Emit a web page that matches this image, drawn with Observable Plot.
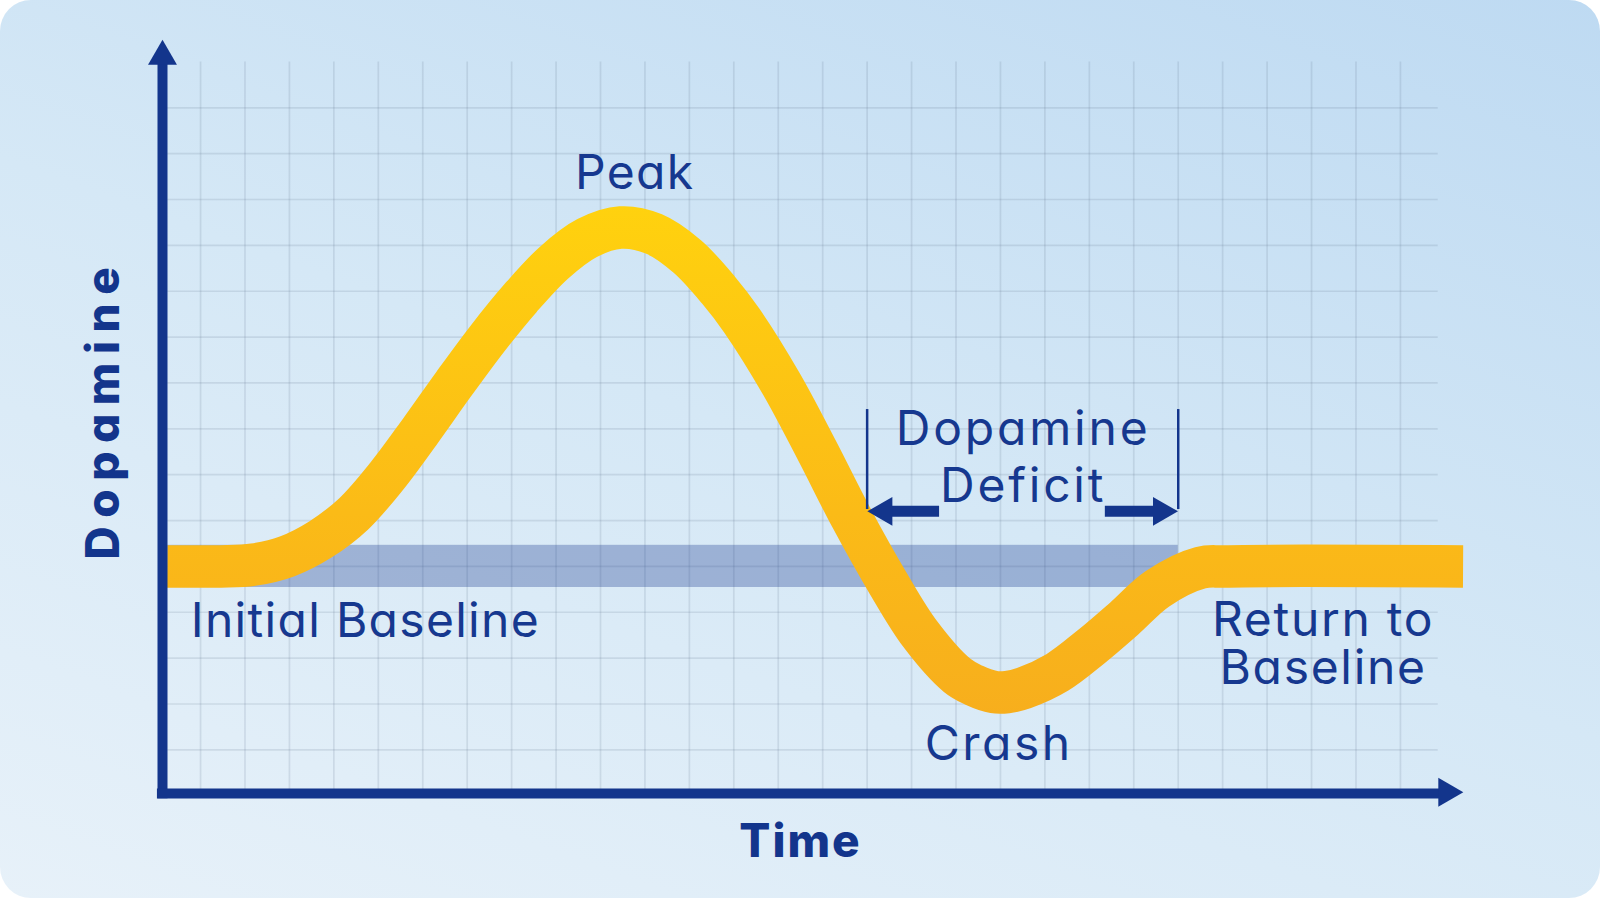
<!DOCTYPE html>
<html>
<head>
<meta charset="utf-8">
<script src="https://cdn.jsdelivr.net/npm/d3@7"></script>
<script src="https://cdn.jsdelivr.net/npm/@observablehq/plot@0.6"></script>
<style>
  html, body { margin: 0; padding: 0; background: #ffffff; }
  #card {
    width: 1600px; height: 898px; border-radius: 31px; overflow: hidden;
    background: linear-gradient(200deg, #BEDAF2 0%, #D5E8F6 50%, #E7F1F9 100%);
  }
  #card svg { display: block; background: transparent; }
  #card svg text { font-feature-settings: "cv11" 1; }
</style>
</head>
<body>
<div id="card"></div>
<script>
// Dopamine response over time (time in grid columns, level in grid rows)
const time = [0.25, 1.45, 2.2, 2.95, 3.7, 4.45, 5.2, 5.95, 6.7, 7.45, 8.2, 8.95, 9.7, 10.45,
  11.2, 11.95, 12.66, 13.18, 14.07, 14.87, 15.64, 16.48, 17.19, 18.03, 18.4, 18.85, 19.15, 19.53, 20.28,
  21.03, 21.78, 22.53, 23.5, 24.06, 29.41];
const dopamine = [5, 5, 5.04, 5.22, 5.59, 6.15, 6.98, 7.96, 8.98, 9.96, 10.85, 11.62, 12.16, 12.39,
  12.25, 11.76, 11.02, 10.36, 8.98, 7.53, 6.07, 4.62, 3.53, 2.62, 2.41, 2.26, 2.26, 2.35, 2.69,
  3.24, 3.86, 4.51, 4.97, 5, 5];

const baselineLevel = 5;
const bandHalf = 0.46;
const deficitStart = 16;
const deficitEnd = 23;

const gridCols = d3.range(1, 29);
const gridRows = d3.range(1, 16);
const gridTop = 16;
const gridRight = 28.85;

// Annotation labels
const labelText = ["Peak", "Dopamine\nDeficit", "Crash", "Return to\nBaseline"];
const labelTime = [10.77, 19.51, 18.96, 26.26];
const labelLevel = [13.23, 6.40, 0.768, 2.425];
const labelLineHeight = [1, 1.2, 1, 1.0];
const startLabel = "Initial Baseline";
const startLabelTime = 0.78;
const startLabelLevel = 3.47;

const xTitle = "Time";
const yTitle = "Dopamine";

const navy = "#13358C";
const labelColor = "#16388F";

const series = time.map((t, i) => ({t, d: dopamine[i]}));

const axisTime = 0.144;
const axisLevel = 0.05;

// tracking per text block (px)
const tracking = new Map([
  ["Peak", 1.3], ["Initial Baseline", 1.3], ["DopamineDeficit", 2.8],
  ["Crash", 2.5], ["Return toBaseline", 1.7], ["Time", 2], ["Dopamine", 8.5]
]);

const gradientDefs = () => {
  const defs = d3.create("svg:defs");
  const g = defs.append("linearGradient")
    .attr("id", "curveGrad")
    .attr("gradientUnits", "userSpaceOnUse")
    .attr("x1", 0).attr("y1", 200).attr("x2", 0).attr("y2", 720);
  g.append("stop").attr("offset", "0%").attr("stop-color", "#FFD20E");
  g.append("stop").attr("offset", "60%").attr("stop-color", "#FBBB17");
  g.append("stop").attr("offset", "100%").attr("stop-color", "#F7AE1D");
  return defs.node();
};

const labelMarks = labelText.map((s, i) => Plot.text([s], {
  x: labelTime[i], y: labelLevel[i], text: d => d,
  lineAnchor: "bottom", textAnchor: "middle", lineHeight: labelLineHeight[i],
  fontFamily: "Inter", fontSize: 48, fill: labelColor
}));

const chart = Plot.plot({
  width: 1600,
  height: 898,
  margin: 0,
  style: {background: "transparent", overflow: "visible"},
  x: {domain: [0, 30], range: [155.6, 155.6 + 30 * 44.44], axis: null},
  y: {domain: [0, 17], range: [795.2, 795.2 - 17 * 45.86], axis: null},
  marks: [
    gradientDefs,
    // grid
    Plot.ruleX(gridCols, {y1: 0, y2: gridTop, stroke: "#5d7387", strokeOpacity: 0.16, strokeWidth: 1.7}),
    Plot.ruleY(gridRows, {x1: 0.26, x2: gridRight, stroke: "#5d7387", strokeOpacity: 0.16, strokeWidth: 1.7}),
    // baseline band
    Plot.rect([baselineLevel], {
      x1: 0.26, x2: deficitEnd,
      y1: d => d - bandHalf, y2: d => d + bandHalf,
      fill: navy, fillOpacity: 0.31
    }),
    // dopamine curve
    Plot.line(series, {
      x: "t", y: "d", curve: "catmull-rom",
      stroke: "url(#curveGrad)", strokeWidth: 42.5,
      strokeLinecap: "butt", strokeLinejoin: "round"
    }),
    // axes
    Plot.ruleX([axisTime], {y1: -0.065, y2: 15.95, stroke: navy, strokeWidth: 10, strokeLinecap: "butt"}),
    Plot.ruleY([axisLevel], {x1: 0.03, x2: 28.9, stroke: navy, strokeWidth: 10, strokeLinecap: "butt"}),
    Plot.dot([{t: axisTime, d: 16.12, r: 0}, {t: 29.04, d: 0.075, r: 90}], {
      x: "t", y: "d", rotate: "r", symbol: "triangle", r: 10.74, fill: navy, stroke: null
    }),
    // deficit brackets and arrows
    Plot.ruleX([deficitStart, deficitEnd], {y1: 6.24, y2: 8.42, stroke: navy, strokeWidth: 2.5}),
    Plot.ruleY([{a: 16.5, b: 17.63}, {a: 21.36, b: 22.5}], {
      x1: "a", x2: "b", y: 6.2, stroke: navy, strokeWidth: 11, strokeLinecap: "butt"
    }),
    Plot.dot([{t: 16.38, r: -90}, {t: 22.62, r: 90}], {
      x: "t", y: 6.2, rotate: "r", symbol: "triangle", r: 10.74, fill: navy, stroke: null
    }),
    // labels
    ...labelMarks,
    Plot.text([startLabel], {
      x: startLabelTime, y: startLabelLevel, text: d => d, lineAnchor: "bottom", textAnchor: "start",
      fontFamily: "Inter", fontSize: 48, fill: labelColor
    }),
    // axis titles
    Plot.text([xTitle], {
      x: 14.5, y: -1.34, text: d => d, lineAnchor: "bottom", textAnchor: "middle",
      fontFamily: "Inter", fontSize: 46, fontWeight: 800, fill: navy
    }),
    Plot.text([yTitle], {
      x: -0.846, y: 8.43, text: d => d, rotate: -90, lineAnchor: "bottom", textAnchor: "middle",
      fontFamily: "Inter", fontSize: 46, fontWeight: 800, fill: navy
    })
  ]
});

d3.select(chart).selectAll("text").each(function () {
  const ls = tracking.get(this.textContent);
  if (ls != null) this.style.letterSpacing = `${ls}px`;
});

document.getElementById("card").appendChild(chart);
</script>
</body>
</html>
